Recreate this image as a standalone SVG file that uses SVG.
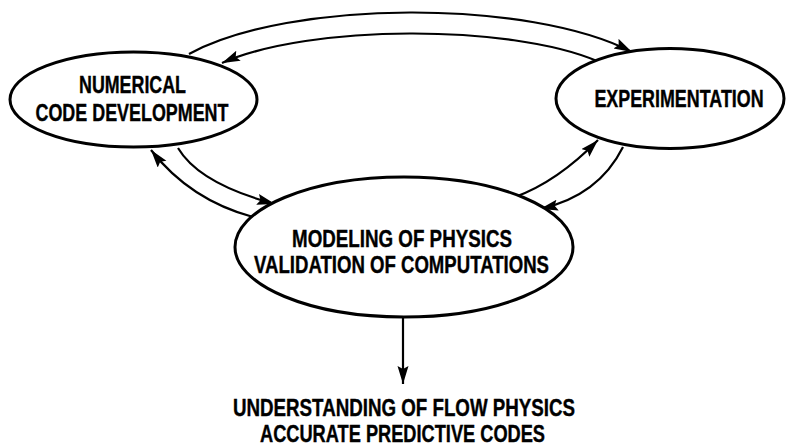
<svg xmlns="http://www.w3.org/2000/svg" width="789" height="446" viewBox="0 0 789 446">
<style>
.node ellipse{fill:#fff;stroke:#000;stroke-width:3}
.lbl{font-family:"Liberation Sans",Arial,sans-serif;font-weight:bold;font-size:24.5px;fill:#000;stroke:#000;stroke-width:0.4;text-anchor:middle}
.conn path{fill:none;stroke:#000;stroke-width:2.2}
</style>
<defs>
<marker id="ah" markerUnits="userSpaceOnUse" markerWidth="20" markerHeight="12" refX="18" refY="5.5" orient="auto">
<path d="M0,0 L18,5.5 L0,11 L3,5.5 z" fill="#000"/>
</marker>
</defs>
<rect width="789" height="446" fill="#fff"/>
<g id="connectors" class="conn">
<path d="M189,54 C290,-1 530,-1 632,52" marker-end="url(#ah)"/>
<path d="M597,61 C510,24 310,24 222,63" marker-end="url(#ah)"/>
<path d="M253,217 Q190,200 151,150" marker-end="url(#ah)"/>
<path d="M178,148 Q199.5,184 275,204" marker-end="url(#ah)"/>
<path d="M515,197 Q557.5,181.5 598,140" marker-end="url(#ah)"/>
<path d="M623,147 Q598.5,196 540,209" marker-end="url(#ah)"/>
<path d="M403,317 L403,384" marker-end="url(#ah)"/>
</g>
<g id="numerical" class="node">
<ellipse cx="133.5" cy="99.5" rx="123.5" ry="47.5"/>
<text class="lbl" x="132.5" y="93" textLength="107" lengthAdjust="spacingAndGlyphs">NUMERICAL</text>
<text class="lbl" x="132" y="121" textLength="193" lengthAdjust="spacingAndGlyphs">CODE DEVELOPMENT</text>
</g>
<g id="experimentation" class="node">
<ellipse cx="670" cy="98.5" rx="114" ry="50"/>
<text class="lbl" transform="translate(679,107) scale(0.73,1)" x="0" y="0">EXPERIMENTATION</text>
</g>
<g id="modeling" class="node">
<ellipse cx="404" cy="247" rx="169" ry="70"/>
<text class="lbl" x="402" y="247" textLength="220" lengthAdjust="spacingAndGlyphs">MODELING OF PHYSICS</text>
<text class="lbl" x="401.5" y="273" textLength="295" lengthAdjust="spacingAndGlyphs">VALIDATION OF COMPUTATIONS</text>
</g>
<g id="outcome">
<text class="lbl" x="404" y="416" textLength="342" lengthAdjust="spacingAndGlyphs">UNDERSTANDING OF FLOW PHYSICS</text>
<text class="lbl" x="402.5" y="442" textLength="285" lengthAdjust="spacingAndGlyphs">ACCURATE PREDICTIVE CODES</text>
</g>
</svg>
